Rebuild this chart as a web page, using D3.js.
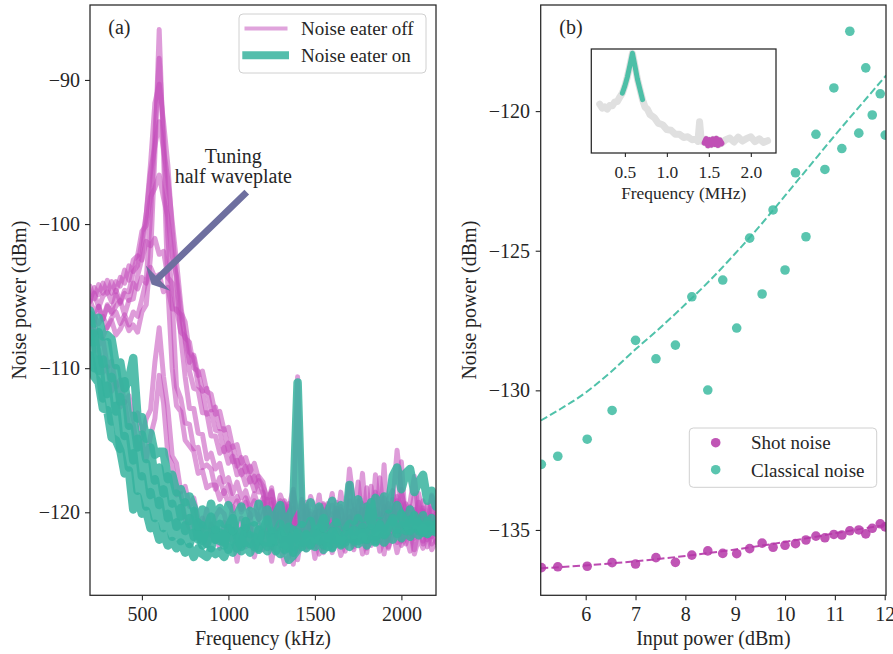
<!DOCTYPE html>
<html><head><meta charset="utf-8">
<script src="https://cdn.jsdelivr.net/npm/d3@7"></script>
<style>
body{margin:0;background:#fff;}
svg text{font-family:"Liberation Serif","DejaVu Serif",serif;fill:#262626;}
</style></head><body>
<svg id="chart" width="893" height="654"></svg>
<script>
// ---------------- DATA: panel (a) ----------------
const freqKHz = [200,225,250,275,300,325,350,375,400,425,450,475,500,525,550,575,600,625,650,675,700,725,750,775,800,825,850,875,900,925,950,975,1000,1025,1050,1075,1100,1125,1150,1175,1200,1225,1250,1275,1300,1325,1350,1375,1400,1425,1450,1475,1500,1525,1550,1575,1600,1625,1650,1675,1700,1725,1750,1775,1800,1825,1850,1875,1900,1925,1950,1975,2000,2025,2050,2075,2100,2125,2150,2175,2200];
const freqTicks = [500,1000,1500,2000];
const powerTicksA = [-120,-110,-100,-90];

const offTrace1 = [-107.1,-107.7,-107.4,-107.8,-107.1,-106.7,-107.7,-107.3,-106.6,-107.4,
 -107.0,-107.5,-106.1,-105.6,-102.2,-95.2,-86.5,-95.2,-104.4,-110.0,
 -112.6,-113.0,-115.0,-115.4,-115.8,-117.3,-117.1,-118.3,-118.1,-118.1,
 -119.1,-118.5,-119.4,-119.9,-119.2,-120.0,-119.3,-120.4,-119.9,-120.5,
 -119.3,-120.8,-119.4,-121.6,-120.2,-122.1,-119.6,-121.0,-120.0,-122.4,
 -119.8,-121.3,-120.4,-122.0,-119.5,-120.9,-121.7,-119.9,-121.2,-120.3,
 -118.0,-121.4,-120.1,-121.9,-119.7,-120.8,-118.6,-121.5,-120.2,-119.4,
 -120.9,-118.9,-119.6,-121.2,-120.0,-121.8,-119.3,-120.6,-121.9,-120.2,
 -120.9];
const offTrace2 = [-107.1,-106.4,-106.9,-106.4,-107.2,-106.5,-106.1,-106.9,-106.3,-107.0,
 -106.1,-106.4,-105.2,-103.9,-99.3,-93.8,-88.5,-93.8,-100.9,-105.2,
 -111.3,-112.1,-113.8,-113.9,-115.6,-115.5,-116.9,-116.7,-117.0,-118.4,
 -117.6,-118.7,-118.1,-119.3,-118.9,-119.8,-119.0,-119.8,-119.2,-120.5,
 -120.2,-119.1,-121.4,-119.9,-121.0,-119.2,-122.3,-120.5,-110.6,-119.7,
 -121.6,-120.1,-122.4,-120.7,-121.1,-119.4,-121.9,-120.6,-119.8,-121.4,
 -120.3,-122.0,-119.2,-120.7,-121.8,-119.9,-120.5,-122.1,-119.6,-120.8,
 -119.1,-121.3,-118.4,-120.5,-121.7,-119.8,-120.9,-122.2,-119.5,-121.0,
 -120.3];
const offTrace3 = [-105.3,-106.1,-105.7,-106.6,-105.6,-106.2,-105.7,-105.3,-106.3,-105.3,
 -105.2,-103.6,-102.4,-99.3,-95.8,-91.6,-90.3,-92.9,-95.9,-100.4,
 -104.1,-107.8,-110.6,-112.8,-112.8,-114.5,-114.6,-116.3,-115.9,-117.0,
 -116.6,-117.9,-117.6,-118.7,-117.9,-119.0,-118.5,-119.6,-118.7,-119.7,
 -119.0,-121.1,-119.8,-120.6,-122.0,-120.3,-119.4,-121.7,-120.1,-121.2,
 -119.6,-121.8,-120.7,-119.9,-122.2,-120.4,-121.0,-119.3,-121.6,-120.8,
 -121.5,-119.8,-120.9,-119.4,-121.7,-118.2,-120.6,-121.3,-116.7,-121.9,
 -120.4,-119.2,-121.5,-119.9,-120.7,-121.6,-118.7,-120.3,-121.4,-119.7,
 -121.2];
const offTrace4 = [-105.4,-104.8,-105.8,-105.0,-104.7,-105.4,-104.6,-105.4,-104.6,-104.7,
 -103.3,-102.9,-101.2,-99.3,-96.4,-94.6,-92.9,-94.8,-96.9,-99.8,
 -102.6,-105.6,-108.1,-110.2,-111.4,-111.5,-113.1,-113.1,-114.7,-114.7,
 -115.9,-115.5,-116.6,-116.1,-117.4,-117.1,-118.1,-117.6,-118.5,-117.8,
 -118.7,-120.4,-119.1,-121.3,-120.0,-119.4,-121.8,-120.2,-122.0,-120.6,
 -119.3,-121.1,-120.0,-121.9,-119.8,-120.6,-122.1,-119.7,-120.9,-121.5,
 -119.9,-121.2,-120.3,-117.3,-121.0,-120.1,-121.6,-117.6,-120.4,-121.1,
 -119.7,-120.8,-122.0,-119.4,-120.5,-118.8,-121.3,-120.0,-120.8,-121.7,
 -120.1];
const offTrace5 = [-104.3,-105.2,-104.2,-104.8,-103.9,-104.8,-104.0,-104.3,-103.2,-103.9,
 -102.5,-102.2,-100.5,-100.1,-98.1,-97.5,-96.6,-98.2,-99.5,-102.2,
 -103.6,-106.1,-106.8,-108.9,-109.3,-111.2,-111.6,-113.2,-113.0,-114.3,
 -114.4,-115.8,-115.2,-116.5,-116.4,-117.4,-116.8,-117.9,-117.5,-118.6,
 -118.6,-119.7,-118.3,-120.5,-119.2,-121.0,-119.6,-118.4,-120.8,-119.3,
 -121.2,-119.9,-120.5,-118.8,-121.4,-120.2,-119.5,-121.0,-118.6,-120.7,
 -117.0,-119.4,-120.6,-121.5,-118.3,-120.9,-119.8,-120.4,-121.7,-119.1,
 -118.5,-120.6,-116.5,-121.0,-119.6,-120.3,-121.4,-119.2,-120.8,-118.9,
 -120.6];
const offTrace6 = [-105.3,-104.4,-104.9,-104.1,-104.8,-104.0,-104.7,-103.7,-104.1,-102.9,
 -103.3,-102.2,-102.5,-101.2,-101.5,-101.0,-102.1,-101.9,-103.7,-104.1,
 -106.0,-106.3,-107.9,-108.2,-110.0,-110.2,-111.6,-111.4,-112.9,-112.7,
 -114.2,-114.2,-115.7,-115.4,-116.8,-116.2,-117.2,-116.8,-117.9,-117.5,
 -117.9,-119.3,-118.5,-120.1,-118.8,-119.6,-121.0,-118.6,-120.3,-119.1,
 -120.6,-118.9,-119.8,-121.2,-119.4,-120.1,-118.7,-120.9,-119.6,-121.3,
 -119.2,-120.4,-117.9,-120.7,-119.5,-121.1,-117.4,-120.2,-119.0,-120.6,
 -119.4,-115.7,-118.6,-120.1,-119.3,-117.5,-120.4,-119.7,-121.2,-118.8,
 -119.9];
const offTrace7 = [-106.1,-106.7,-105.7,-106.6,-105.7,-106.1,-104.9,-105.5,-104.8,-105.3,
 -104.1,-104.5,-103.7,-104.1,-103.0,-103.7,-103.5,-104.7,-104.4,-105.9,
 -105.9,-107.5,-107.8,-109.6,-109.1,-110.5,-110.2,-111.6,-111.8,-113.2,
 -113.0,-114.3,-114.1,-115.5,-115.3,-116.6,-116.2,-117.2,-116.6,-117.7,
 -118.2,-119.0,-118.6,-120.2,-119.4,-120.8,-121.9,-119.7,-123.3,-121.4,
 -120.6,-122.4,-121.0,-119.6,-122.8,-121.2,-120.1,-122.3,-120.9,-121.7,
 -120.4,-122.2,-121.3,-119.8,-122.5,-120.7,-121.8,-120.1,-122.9,-121.0,
 -120.5,-122.1,-119.8,-121.6,-122.7,-120.3,-121.5,-119.9,-122.4,-121.2,
 -122.1];
const offTrace8 = [-107.1,-106.8,-108.4,-108.0,-109.9,-109.5,-111.3,-110.8,-112.4,-111.9,
 -113.6,-113.1,-114.8,-113.5,-112.9,-109.6,-107.2,-110.6,-112.8,-116.1,
 -116.6,-118.6,-118.2,-119.6,-119.0,-120.5,-121.2,-119.8,-121.6,-120.3,
 -119.8,-120.1,-121.3,-119.6,-122.0,-120.4,-121.6,-120.1,-122.4,-120.8,
 -121.7,-120.3,-122.5,-121.1,-120.0,-122.8,-121.4,-123.6,-120.7,-121.9,
 -122.6,-120.5,-121.8,-122.9,-120.9,-121.5,-122.3,-120.6,-121.9,-122.7,
 -121.0,-122.4,-120.8,-121.6,-122.8,-120.4,-122.1,-121.3,-120.9,-122.5,
 -121.4,-120.2,-122.3,-121.7,-120.6,-122.6,-121.1,-122.0,-120.8,-122.2,
 -121.5];
const offTrace9 = [-106.9,-108.8,-108.7,-110.3,-109.9,-111.6,-111.0,-112.7,-112.3,-114.1,
 -113.9,-115.6,-115.1,-116.3,-114.7,-113.5,-110.5,-112.4,-116.0,-116.7,
 -118.8,-118.7,-120.5,-121.1,-119.9,-121.8,-120.4,-122.3,-120.8,-121.6,
 -122.5,-120.7,-122.0,-121.2,-123.4,-121.5,-122.4,-120.9,-123.1,-121.8,
 -122.6,-121.0,-123.4,-121.7,-122.3,-123.6,-123.0,-121.9,-122.7,-121.3,
 -122.4,-121.2,-123.2,-121.8,-122.5,-121.4,-122.8,-121.6,-123.0,-122.1,
 -121.5,-122.6,-121.2,-122.9,-121.7,-122.3,-121.0,-122.7,-121.9,-122.4,
 -121.3,-122.8,-121.6,-122.2,-121.1,-122.9,-121.8,-122.5,-121.4,-122.6,
 -122.0];

const onTrace1 = [-106.0,-106.9,-106.5,-107.8,-107.7,-108.0,-109.8,-109.6,-111.4,-110.8,
 -109.3,-113.5,-113.4,-114.9,-114.5,-116.0,-115.8,-115.8,-117.7,-117.4,
 -118.6,-118.4,-119.3,-118.9,-119.7,-121.0,-119.8,-120.9,-119.4,-121.2,
 -119.7,-120.8,-119.5,-121.3,-120.2,-119.6,-121.0,-119.9,-120.7,-119.4,
 -120.9,-119.8,-121.2,-120.1,-119.5,-121.4,-120.3,-119.7,-111.0,-120.8,
 -120.2,-119.3,-120.9,-119.6,-121.1,-120.0,-119.2,-120.7,-119.5,-121.0,
 -118.1,-120.6,-119.1,-120.4,-119.6,-120.9,-119.0,-120.2,-118.9,-119.8,
 -117.5,-116.9,-118.4,-117.3,-117.0,-118.6,-117.9,-117.4,-119.2,-118.5,
 -119.6];
const onTrace2 = [-106.3,-108.2,-107.5,-109.7,-108.2,-110.7,-110.0,-112.3,-110.9,-114.0,
 -113.3,-115.5,-114.6,-116.3,-115.5,-117.8,-116.9,-118.7,-117.5,-119.4,
 -118.7,-120.3,-119.3,-120.6,-119.9,-121.9,-120.9,-122.2,-121.3,-121.9,
 -121.4,-122.3,-121.1,-121.8,-122.5,-121.3,-122.1,-121.6,-122.4,-121.2,
 -121.9,-122.4,-121.3,-122.0,-121.5,-122.6,-121.7,-122.8,-121.4,-122.1,
 -121.6,-122.3,-121.2,-122.0,-121.7,-122.4,-121.3,-121.9,-122.2,-121.5,
 -121.8,-121.2,-122.0,-121.4,-121.9,-121.1,-121.7,-120.9,-121.5,-121.0,
 -120.4,-121.2,-120.1,-120.8,-121.3,-120.2,-120.9,-121.4,-120.6,-121.1,
 -120.8];
const onTrace3 = [-108.2,-107.6,-110.2,-109.4,-111.8,-110.6,-113.0,-112.0,-114.7,-114.1,
 -116.4,-114.9,-117.5,-116.6,-118.8,-117.7,-119.5,-118.4,-120.4,-119.4,
 -121.0,-119.7,-121.3,-120.4,-121.7,-120.7,-122.0,-121.1,-120.3,-121.9,
 -120.8,-122.1,-121.0,-120.4,-121.7,-122.2,-120.6,-121.5,-120.9,-122.0,
 -121.2,-120.5,-122.1,-121.4,-120.8,-122.3,-121.0,-122.4,-121.3,-120.9,
 -121.7,-120.6,-121.9,-121.2,-120.4,-121.8,-121.1,-120.7,-122.0,-121.3,
 -120.8,-121.6,-120.4,-121.9,-121.0,-119.3,-121.4,-120.6,-121.2,-120.1,
 -120.7,-119.5,-120.3,-121.0,-119.8,-120.6,-121.3,-120.2,-121.5,-120.4,
 -121.0];
const onTrace4 = [-107.6,-110.0,-109.4,-112.1,-111.2,-113.7,-112.6,-115.6,-114.7,-116.9,
 -115.9,-118.5,-117.5,-119.6,-118.6,-120.4,-119.2,-121.1,-120.1,-121.7,
 -120.7,-122.0,-120.9,-122.2,-121.4,-121.4,-122.3,-121.6,-122.5,-121.2,
 -122.0,-121.5,-122.6,-121.3,-121.9,-122.4,-121.1,-122.2,-121.7,-122.5,
 -121.4,-122.1,-121.6,-122.7,-121.3,-122.0,-122.5,-121.2,-121.9,-122.4,
 -121.5,-122.2,-121.8,-121.1,-122.3,-121.6,-122.4,-121.3,-121.8,-122.1,
 -121.4,-122.0,-121.5,-121.0,-121.9,-121.4,-122.1,-120.8,-121.6,-121.2,
 -120.6,-121.5,-120.9,-121.3,-120.5,-121.1,-120.7,-121.4,-120.9,-121.3,
 -121.0];
const onTrace5 = [-109.1,-110.6,-111.0,-112.8,-112.9,-114.8,-115.0,-115.7,-117.3,-117.1,
 -119.8,-118.9,-120.1,-119.9,-121.1,-120.8,-121.9,-121.5,-122.3,-122.0,
 -122.5,-122.1,-122.8,-122.4,-123.1,-122.5,-122.9,-123.1,-122.6,-122.9,
 -122.7,-123.1,-122.4,-122.8,-122.2,-122.7,-122.3,-122.8,-122.1,-122.6,
 -122.3,-122.7,-122.0,-122.5,-122.9,-122.4,-123.3,-123.0,-122.6,-122.2,
 -122.5,-122.0,-122.4,-121.9,-122.6,-122.2,-122.5,-121.8,-122.3,-122.0,
 -122.4,-121.9,-122.2,-121.7,-122.3,-121.8,-122.0,-121.6,-122.1,-121.7,
 -121.9,-121.4,-121.8,-121.3,-121.7,-121.2,-121.6,-121.1,-121.5,-121.2,
 -121.4];

const offTraces = [offTrace1,offTrace2,offTrace3,offTrace4,offTrace5,offTrace6,offTrace7,offTrace8,offTrace9];
const onTraces = [onTrace5,onTrace4,onTrace3,onTrace2,onTrace1];
const legendLabelsA = ["Noise eater off","Noise eater on"];
const annotationLines = ["Tuning","half waveplate"];
const annotationTextAt = [1028,-95.76];   // kHz, dBm
const arrowTail = [1106,-97.79];
const arrowTip = [556,-104.19];

// ---------------- DATA: panel (b) ----------------
const inputPower = [5.11,5.44,6.03,6.53,7.00,7.41,7.80,8.13,8.45,8.75,9.03,9.29,9.54,9.76,10.00,10.21,10.42,10.62,10.80,10.98,11.14,11.30,11.48,11.62,11.75,11.91,12.01];
const classicalNoise = [-132.65,-132.36,-131.75,-130.72,-128.21,-128.87,-128.38,-126.65,-129.99,-126.05,-127.77,-124.55,-126.55,-123.54,-125.69,-122.21,-124.50,-120.83,-122.09,-119.17,-121.34,-117.14,-120.79,-118.45,-120.14,-119.38,-120.86];
const shotNoise = [-136.35,-136.32,-136.30,-136.17,-136.22,-135.99,-136.16,-135.90,-135.75,-135.84,-135.85,-135.67,-135.47,-135.62,-135.55,-135.49,-135.36,-135.22,-135.28,-135.16,-135.18,-135.03,-135.00,-135.14,-134.94,-134.78,-134.89];
const fitPower = [5.1,5.5,6,6.5,7,7.5,8,8.5,9,9.5,10,10.5,11,11.5,12.03];
const classicalFit = [-131.08,-130.66,-130.08,-129.35,-128.53,-127.75,-126.92,-126.05,-125.10,-124.10,-123.03,-121.95,-120.87,-119.82,-118.72];
const shotFit = [-136.37,-136.33,-136.27,-136.20,-136.12,-136.03,-135.93,-135.82,-135.70,-135.57,-135.43,-135.28,-135.12,-134.97,-134.82];
const inputTicks = [6,7,8,9,10,11,12];
const powerTicksB = [-135,-130,-125,-120];
const legendLabelsB = ["Shot noise","Classical noise"];

// inset spectrum
const insetFreqMHz = [0.20,0.23,0.26,0.29,0.32,0.35,0.38,0.41,0.44,0.47,0.50,0.53,0.56,0.59,0.62,0.65,0.68,0.71,0.74,0.77,0.80,0.85,0.90,0.95,1.00,1.05,1.10,1.15,1.20,1.25,1.30,1.35,1.37,1.39,1.41,1.45,1.47,1.49,1.51,1.53,1.55,1.57,1.59,1.61,1.63,1.65,1.70,1.75,1.80,1.85,1.90,1.95,2.00,2.05,2.10,2.15,2.20];
const insetPower = [-109.0,-110.2,-109.8,-110.5,-109.4,-109.5,-108.3,-108.2,-106.8,-105.6,-103.4,-100.6,-97.1,-93.4,-97.3,-101.4,-104.5,-107.6,-109.9,-110.6,-112.2,-113.1,-114.9,-115.3,-116.8,-117.0,-118.2,-118.2,-119.2,-119.0,-119.9,-119.7,-120.4,-114.4,-120.3,-120.8,-119.7,-121.6,-120.0,-121.4,-119.8,-121.2,-119.6,-121.5,-120.1,-121.0,-119.9,-119.4,-120.6,-119.1,-120.3,-119.5,-119.0,-120.5,-119.6,-120.7,-120.2];
const insetClassicalBand = [0.47,0.71];
const insetShotBand = [1.45,1.65];
const insetTicks = [0.5,1.0,1.5,2.0];

// ---------------- STYLE ----------------
const PINK = "#c24ab9", TEAL = "#36b39e", DOT_TEAL = "#3dbba1", DOT_MAG = "#b537a8";
const INK = "#262626", ARROW = "#6e6f9f";
const FS = 20;

const svg = d3.select("#chart");
const defs = svg.append("defs");

function styleAxis(g, fs){
  g.attr("font-family",'"Liberation Serif","DejaVu Serif",serif').attr("font-size",fs).attr("color",INK);
  g.select(".domain").remove();
  g.selectAll(".tick line").attr("stroke-width",1.1);
}

// ================= PANEL (a) =================
const xA = d3.scaleLinear().domain([200,2200]).range([90,436]);
const yA = d3.scaleLinear().domain([-125.76,-84.8]).range([595.3,5]);
defs.append("clipPath").attr("id","clipA").append("rect")
  .attr("x",xA.range()[0]).attr("y",yA.range()[1])
  .attr("width",xA.range()[1]-xA.range()[0]).attr("height",yA.range()[0]-yA.range()[1]);

const gA = svg.append("g");
const plotA = gA.append("g").attr("clip-path","url(#clipA)");
const lineA = d3.line().x((d,i)=>xA(freqKHz[i])).y(d=>yA(d));
offTraces.forEach(t=>{
  plotA.append("path").attr("d",lineA(t)).attr("fill","none")
    .attr("stroke",PINK).attr("stroke-opacity",0.55).attr("stroke-width",5)
    .attr("stroke-linejoin","round").attr("stroke-linecap","round");
});
onTraces.forEach(t=>{
  plotA.append("path").attr("d",lineA(t)).attr("fill","none")
    .attr("stroke",TEAL).attr("stroke-opacity",0.85).attr("stroke-width",8.5)
    .attr("stroke-linejoin","round").attr("stroke-linecap","round");
});

// axes
const axXA = gA.append("g").attr("transform",`translate(0,${yA.range()[0]})`)
  .call(d3.axisBottom(xA).tickValues(freqTicks).tickSize(5).tickPadding(6.5).tickFormat(d3.format("d")));
styleAxis(axXA, FS);
const axYA = gA.append("g").attr("transform",`translate(${xA.range()[0]},0)`)
  .call(d3.axisLeft(yA).tickValues(powerTicksA).tickSize(5).tickPadding(5).tickFormat(d3.format("d")));
styleAxis(axYA, FS);
gA.append("rect").attr("x",xA.range()[0]).attr("y",yA.range()[1])
  .attr("width",xA.range()[1]-xA.range()[0]).attr("height",yA.range()[0]-yA.range()[1])
  .attr("fill","none").attr("stroke",INK).attr("stroke-width",1.25);

gA.append("text").attr("x",(xA.range()[0]+xA.range()[1])/2).attr("y",645)
  .attr("text-anchor","middle").attr("font-size",FS).text("Frequency (kHz)");
gA.append("text").attr("transform",`translate(25.5,${(yA.range()[0]+yA.range()[1])/2}) rotate(-90)`)
  .attr("text-anchor","middle").attr("font-size",FS).text("Noise power (dBm)");
gA.append("text").attr("x",108.3).attr("y",34).attr("font-size",FS).text("(a)");

// annotation
const tx = xA(arrowTail[0]), ty = yA(arrowTail[1]);
const hx = xA(arrowTip[0]), hy = yA(arrowTip[1]);
(function(){
  const L = Math.hypot(hx-tx,hy-ty), ux=(hx-tx)/L, uy=(hy-ty)/L, nx=-uy, ny=ux;
  const headLen=9, headW=35, shaftW=6.7;
  const bx=hx-ux*headLen, by=hy-uy*headLen;
  const pts=[[tx+nx*shaftW/2,ty+ny*shaftW/2],[bx+nx*shaftW/2,by+ny*shaftW/2],[bx+nx*headW/2,by+ny*headW/2],
    [hx,hy],[bx-nx*headW/2,by-ny*headW/2],[bx-nx*shaftW/2,by-ny*shaftW/2],[tx-nx*shaftW/2,ty-ny*shaftW/2]];
  gA.append("path").attr("d","M"+pts.map(p=>p.join(",")).join("L")+"Z").attr("fill",ARROW);
})();
const ann = gA.append("text").attr("text-anchor","middle").attr("font-size",FS);
annotationLines.forEach((s,i)=>{
  ann.append("tspan").attr("x",xA(annotationTextAt[0])).attr("y",yA(annotationTextAt[1])+i*20).text(s);
});

// legend (a)
const legA = gA.append("g");
legA.append("rect").attr("x",239).attr("y",14).attr("width",187).attr("height",59).attr("rx",4)
  .attr("fill","#fff").attr("fill-opacity",0.8).attr("stroke","#d0d0d0").attr("stroke-width",1);
legA.append("line").attr("x1",244.5).attr("x2",287.5).attr("y1",28.6).attr("y2",28.6)
  .attr("stroke",PINK).attr("stroke-opacity",0.5).attr("stroke-width",4);
legA.append("line").attr("x1",242.3).attr("x2",289).attr("y1",55.2).attr("y2",55.2)
  .attr("stroke",TEAL).attr("stroke-opacity",0.85).attr("stroke-width",8);
legA.append("text").attr("x",301).attr("y",35.3).attr("font-size",19).text(legendLabelsA[0]);
legA.append("text").attr("x",301).attr("y",62.3).attr("font-size",19).text(legendLabelsA[1]);

// ================= PANEL (b) =================
const xB = d3.scaleLinear().domain([5.097,12.026]).range([540.7,886]);
const yB = d3.scaleLinear().domain([-137.34,-116.2]).range([595.3,5]);
defs.append("clipPath").attr("id","clipB").append("rect")
  .attr("x",xB.range()[0]).attr("y",yB.range()[1])
  .attr("width",xB.range()[1]-xB.range()[0]).attr("height",yB.range()[0]-yB.range()[1]);
const gB = svg.append("g");
const plotB = gB.append("g").attr("clip-path","url(#clipB)");
const fitLine = d3.line().curve(d3.curveMonotoneX).x((d,i)=>xB(fitPower[i])).y(d=>yB(d));
plotB.append("path").attr("d",fitLine(classicalFit)).attr("fill","none")
  .attr("stroke",DOT_TEAL).attr("stroke-opacity",0.9).attr("stroke-width",2).attr("stroke-dasharray","7.4,3.2");
plotB.append("path").attr("d",fitLine(shotFit)).attr("fill","none")
  .attr("stroke",DOT_MAG).attr("stroke-opacity",0.9).attr("stroke-width",2).attr("stroke-dasharray","7.4,3.2");
plotB.selectAll("circle.cl").data(classicalNoise).join("circle").attr("class","cl")
  .attr("cx",(d,i)=>xB(inputPower[i])).attr("cy",d=>yB(d)).attr("r",4.8)
  .attr("fill",DOT_TEAL).attr("fill-opacity",0.85);
plotB.selectAll("circle.sh").data(shotNoise).join("circle").attr("class","sh")
  .attr("cx",(d,i)=>xB(inputPower[i])).attr("cy",d=>yB(d)).attr("r",4.8)
  .attr("fill",DOT_MAG).attr("fill-opacity",0.85);

const axXB = gB.append("g").attr("transform",`translate(0,${yB.range()[0]})`)
  .call(d3.axisBottom(xB).tickValues(inputTicks).tickSize(5).tickPadding(6.5).tickFormat(d3.format("d")));
styleAxis(axXB, FS);
const axYB = gB.append("g").attr("transform",`translate(${xB.range()[0]},0)`)
  .call(d3.axisLeft(yB).tickValues(powerTicksB).tickSize(5).tickPadding(5.7).tickFormat(d3.format("d")));
styleAxis(axYB, FS);
gB.append("rect").attr("x",xB.range()[0]).attr("y",yB.range()[1])
  .attr("width",xB.range()[1]-xB.range()[0]).attr("height",yB.range()[0]-yB.range()[1])
  .attr("fill","none").attr("stroke",INK).attr("stroke-width",1.25);
gB.append("text").attr("x",(xB.range()[0]+xB.range()[1])/2).attr("y",645)
  .attr("text-anchor","middle").attr("font-size",FS).text("Input power (dBm)");
gB.append("text").attr("transform",`translate(475.5,${(yB.range()[0]+yB.range()[1])/2}) rotate(-90)`)
  .attr("text-anchor","middle").attr("font-size",FS).text("Noise power (dBm)");
gB.append("text").attr("x",559.3).attr("y",34).attr("font-size",FS).text("(b)");

// legend (b)
const legB = gB.append("g");
legB.append("rect").attr("x",689.3).attr("y",428).attr("width",187.4).attr("height",59.3).attr("rx",4)
  .attr("fill","#fff").attr("fill-opacity",0.8).attr("stroke","#d0d0d0").attr("stroke-width",1);
legB.append("circle").attr("cx",715.7).attr("cy",442.7).attr("r",4.8).attr("fill",DOT_MAG).attr("fill-opacity",0.85);
legB.append("circle").attr("cx",715.7).attr("cy",469.7).attr("r",4.8).attr("fill",DOT_TEAL).attr("fill-opacity",0.85);
legB.append("text").attr("x",751).attr("y",449).attr("font-size",19).text(legendLabelsB[0]);
legB.append("text").attr("x",751).attr("y",476.5).attr("font-size",19).text(legendLabelsB[1]);

// inset
const xI = d3.scaleLinear().domain([0.1,2.3]).range([591.3,776]);
const yI = d3.scaleLinear().domain([-123.96,-92.08]).range([153,49]);
const gI = svg.append("g");
gI.append("rect").attr("x",591.3).attr("y",49).attr("width",184.7).attr("height",104).attr("fill","#fff");
const insetPts = insetFreqMHz.map((f,i)=>[f,insetPower[i]]);
const lineI = d3.line().x(d=>xI(d[0])).y(d=>yI(d[1]));
gI.append("path").attr("d",lineI(insetPts)).attr("fill","none").attr("stroke","#e0e0e0")
  .attr("stroke-width",7).attr("stroke-linejoin","round").attr("stroke-linecap","round");
gI.append("path").attr("d",lineI(insetPts.filter(d=>d[0]>=insetClassicalBand[0]&&d[0]<=insetClassicalBand[1])))
  .attr("fill","none").attr("stroke",DOT_TEAL).attr("stroke-opacity",0.9).attr("stroke-width",5)
  .attr("stroke-linejoin","round").attr("stroke-linecap","round");
gI.append("path").attr("d",lineI(insetPts.filter(d=>d[0]>=insetShotBand[0]&&d[0]<=insetShotBand[1])))
  .attr("fill","none").attr("stroke","#c050b5").attr("stroke-width",6)
  .attr("stroke-linejoin","round").attr("stroke-linecap","round");
const axXI = gI.append("g").attr("transform","translate(0,153)")
  .call(d3.axisBottom(xI).tickValues(insetTicks).tickSize(4).tickPadding(9).tickFormat(d3.format(".1f")));
styleAxis(axXI, 17.4);
gI.append("rect").attr("x",591.3).attr("y",49).attr("width",184.7).attr("height",104)
  .attr("fill","none").attr("stroke",INK).attr("stroke-width",1.25);
gI.append("text").attr("x",683.7).attr("y",199).attr("text-anchor","middle").attr("font-size",17.4).text("Frequency (MHz)");
</script>
</body></html>
